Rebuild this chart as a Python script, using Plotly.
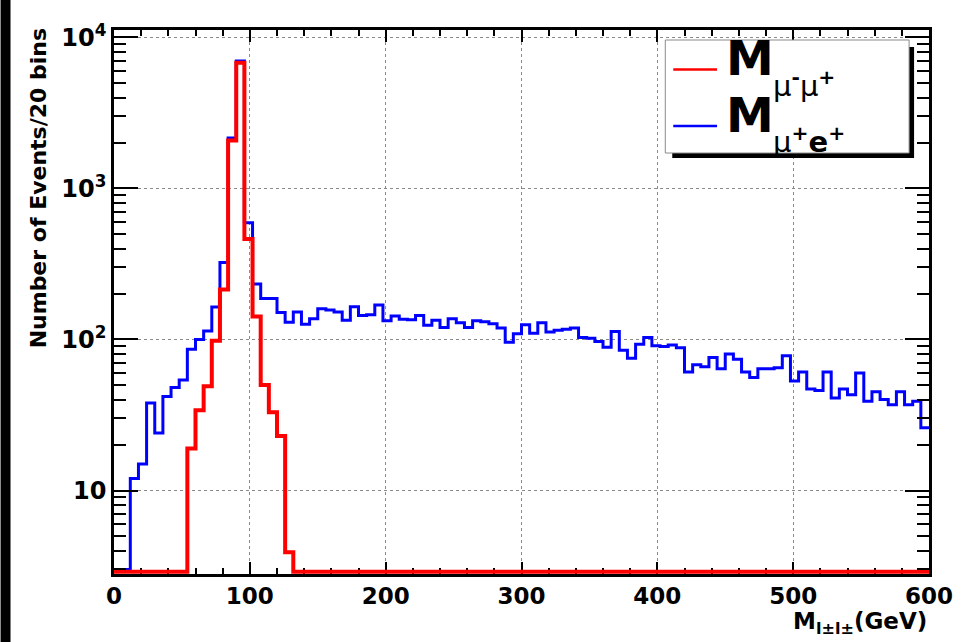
import numpy as np
import plotly.graph_objects as go

# ---------------- data ----------------
BIN_WIDTH = 6.0          # GeV
X_MIN, X_MAX = 0, 600

# M_{mu+ e+}  (blue), 100 bins of 6 GeV
mue_counts = [
    3, 3, 12, 15, 38, 24, 42, 48, 54, 86,
    100, 114, 164, 324, 2160, 6970, 593, 233, 187, 187,
    151, 130, 152, 126, 137, 160, 157, 152, 134, 165,
    144, 146, 169, 133, 143, 136, 135, 144, 124, 134,
    120, 137, 129, 120, 133, 131, 127, 119, 96, 109,
    125, 110, 129, 112, 115, 117, 119, 103, 102, 97,
    89, 113, 85, 75, 93, 103, 91, 90, 92, 88,
    61, 68, 66, 76, 64, 80, 74, 61, 56, 64,
    64, 65, 78, 53, 61, 47, 46, 61, 41, 47,
    43, 60, 39, 45, 40, 37, 45, 37, 39, 26,
]

# M_{mu- mu+}  (red), 100 bins of 6 GeV
mumu_counts = [0] * 9 + [19, 34, 49, 98, 214, 2080, 6790, 463, 142, 50,
                         33, 23, 3.9] + [0] * 78

series_main = ["M", "M"]
series_sub = ["μ<sup><b>-</b></sup>μ<sup><b>+</b></sup>",
              "μ<sup><b>+</b></sup><b>e</b><sup><b>+</b></sup>"]
series_names = ["M_mu-mu+", "M_mu+e+"]
series_colors = ["#ff0000", "#0000ff"]

x_tick_vals = [0, 100, 200, 300, 400, 500, 600]
y_tick_vals = [10, 100, 1000, 10000]
y_tick_text = ["10", "10<sup>2</sup>", "10<sup>3</sup>", "10<sup>4</sup>"]
y_minor_vals = [m * 10 ** e for e in range(0, 4) for m in range(2, 10)]

Y_MIN, Y_MAX = 2.8, 11200.0
Y_FLOOR = 2.9   # empty bins are drawn on the bottom edge (as ROOT does)

y_title = "Number of Events/20 bins"
x_title = "M<sub>l±l±</sub>(GeV)"

# ---------------- helpers ----------------
edges = np.arange(X_MIN, X_MAX + BIN_WIDTH / 2, BIN_WIDTH)


def step_xy(counts):
    c = np.asarray(counts, dtype=float)
    c = np.where(c <= 0, Y_FLOOR, c)
    return edges, np.append(c, c[-1])


FONT = "DejaVu Sans"
L, R, T, B = 114, 32, 30, 68
W, H = 965, 642
PW, PH = W - L - R, H - T - B


def px(xp):
    return (xp - L) / PW


def py(yp):
    return (H - B - yp) / PH


fig = go.Figure()

bx, by = step_xy(mue_counts)
fig.add_trace(go.Scatter(x=bx, y=by, mode="lines", line_shape="hv",
                         line=dict(color=series_colors[1], width=3),
                         name=series_names[1]))
rx, ry = step_xy(mumu_counts)
fig.add_trace(go.Scatter(x=rx, y=ry, mode="lines", line_shape="hv",
                         line=dict(color=series_colors[0], width=4),
                         name=series_names[0]))

fig.update_layout(
    width=W, height=H,
    margin=dict(l=L, r=R, t=T, b=B, pad=0),
    paper_bgcolor="white", plot_bgcolor="white",
    showlegend=False,
)

fig.update_xaxes(
    range=[X_MIN, X_MAX], tickvals=x_tick_vals,
    ticks="inside", ticklen=12, tickwidth=1.5, tickcolor="black",
    showline=True, linecolor="black", linewidth=2.5, mirror="allticks",
    showgrid=True, gridcolor="#8a8a8a", griddash="dot", gridwidth=1,
    zeroline=False, layer="below traces",
    tickfont=dict(family=FONT, size=23, color="black", weight="bold"),
    minor=dict(ticks="inside", ticklen=6, tickwidth=1.5, tickcolor="black",
               dtick=20, showgrid=False),
)
fig.update_yaxes(
    type="log", range=[np.log10(Y_MIN), np.log10(Y_MAX)],
    tickvals=y_tick_vals, ticktext=y_tick_text,
    ticks="inside", ticklen=24, tickwidth=1.5, tickcolor="black",
    showline=True, linecolor="black", linewidth=2.5, mirror="allticks",
    showgrid=True, gridcolor="#8a8a8a", griddash="dot", gridwidth=1,
    zeroline=False,
    tickfont=dict(family=FONT, size=24, color="black", weight="bold"),
    minor=dict(ticks="inside", ticklen=12, tickwidth=1.5, tickcolor="black",
               tickvals=y_minor_vals, showgrid=False),
)

# axis titles (ROOT style: at the end of the axes)
fig.add_annotation(text=y_title, xref="paper", yref="paper",
                   x=px(38), y=py(26), xanchor="center", yanchor="top",
                   textangle=-90, showarrow=False,
                   font=dict(family=FONT, size=22, color="black", weight="bold"))
fig.add_annotation(text=x_title, xref="paper", yref="paper",
                   x=1.0, y=py(606), xanchor="right", yanchor="top",
                   showarrow=False,
                   font=dict(family=FONT, size=23, color="black", weight="bold"))

# ---------------- legend (ROOT TLegend with shadow) ----------------
fig.add_shape(type="rect", xref="paper", yref="paper",
              x0=px(675), x1=px(918), y0=py(158), y1=py(47),
              fillcolor="black", line=dict(width=0), layer="above")
fig.add_shape(type="rect", xref="paper", yref="paper",
              x0=px(668), x1=px(913), y0=py(153), y1=py(40),
              fillcolor="white", line=dict(color="#8a8a8a", width=1),
              layer="above")
entry_y = [69.5, 126]
for i in range(2):
    fig.add_shape(type="line", xref="paper", yref="paper",
                  x0=px(676), x1=px(720), y0=py(entry_y[i]), y1=py(entry_y[i]),
                  line=dict(color=series_colors[i], width=2.5), layer="above")
    fig.add_annotation(text=series_main[i], xref="paper", yref="paper",
                       x=px(727), y=py(entry_y[i] - 11), xanchor="left",
                       yanchor="middle", showarrow=False,
                       font=dict(family=FONT, size=48, color="black",
                                 weight="bold"))
    fig.add_annotation(text=series_sub[i], xref="paper", yref="paper",
                       x=px(774), y=py(entry_y[i] + 14), xanchor="left",
                       yanchor="middle", showarrow=False,
                       font=dict(family=FONT, size=29, color="black"))

# black strip on the left edge of the picture
fig.add_shape(type="rect", xref="paper", yref="paper",
              x0=px(0), x1=px(10), y0=py(H), y1=py(0),
              fillcolor="black", line=dict(width=0), layer="above")

fig.write_html("out.html")
